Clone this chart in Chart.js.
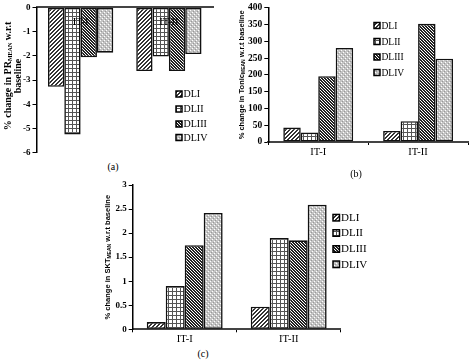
<!DOCTYPE html>
<html>
<head>
<meta charset="utf-8">
<script src="https://cdn.jsdelivr.net/npm/chart.js@4.4.1/dist/chart.umd.min.js"></script>
<style>
  body { margin: 0; background: #fff; }
  #wrap { position: relative; width: 469px; height: 361px; overflow: hidden; font-family: 'Liberation Serif', 'DejaVu Serif', serif; }
  canvas { position: absolute; }
  .cap { position: absolute; font-size: 10px; line-height: 10px; transform: translate(-50%, -50%); color: #000; }
</style>
</head>
<body>
<div id="wrap">
  <canvas id="chartA" width="235" height="160" style="left:0px;top:0px"></canvas>
  <canvas id="chartB" width="234" height="160" style="left:235px;top:0px"></canvas>
  <canvas id="chartC" width="280" height="172" style="left:100px;top:175px"></canvas>
  <div class="cap" style="left:113px;top:167px">(a)</div>
  <div class="cap" style="left:356px;top:174px">(b)</div>
  <div class="cap" style="left:203px;top:354px">(c)</div>
</div>
<script>
// categories and series
const categories = ['IT-I', 'IT-II'];
const seriesNames = ['DLI', 'DLII', 'DLIII', 'DLIV'];

// (a) % change in PR_MEAN
const prDLI = [-3.28, -2.63];
const prDLII = [-5.25, -2.03];
const prDLIII = [-2.06, -2.63];
const prDLIV = [-1.87, -1.93];

// (b) % change in Tonic_MEAN
const tonicDLI = [43, 33];
const tonicDLII = [28, 62];
const tonicDLIII = [196, 352];
const tonicDLIV = [280, 248];

// (c) % change in SKT_MEAN
const sktDLI = [0.15, 0.47];
const sktDLII = [0.9, 1.9];
const sktDLIII = [1.75, 1.85];
const sktDLIV = [2.42, 2.59];

const serif = "'Liberation Serif', 'DejaVu Serif', serif";
const sans = "'Liberation Sans', Arial, sans-serif";
Chart.defaults.font.family = serif;

// hatch fills, drawn on a small tile
function makePattern(size, draw) {
    const c = document.createElement('canvas');
    c.width = size; c.height = size;
    const g = c.getContext('2d');
    g.fillStyle = '#fff';
    g.fillRect(0, 0, size, size);
    draw(g);
    return g.createPattern(c, 'repeat');
}

const fills = [
    // DLI: forward diagonals
    makePattern(4, g => {
        g.fillStyle = '#333';
        for (let x = 0; x < 4; x++) {
            g.fillRect(x, 3 - x, 1, 1);
            g.fillRect(x, (4 - x) % 4, 1, 1);
        }
    }),
    // DLII: small grid
    makePattern(4, g => {
        g.fillStyle = '#555';
        g.fillRect(0, 0, 4, 1);
        g.fillRect(0, 0, 1, 4);
    }),
    // DLIII: dense back diagonals
    makePattern(3, g => {
        g.fillStyle = '#222';
        for (let x = 0; x < 3; x++) {
            g.fillRect(x, x, 1, 1);
            g.fillRect(x, (x + 1) % 3, 1, 1);
        }
    }),
    // DLIV: light grey dots
    makePattern(4, g => {
        g.fillStyle = '#c4c4c4';
        g.fillRect(0, 0, 4, 4);
        g.fillStyle = '#fff';
        g.fillRect(0, 0, 1, 1);
        g.fillRect(2, 2, 1, 1);
        g.fillStyle = '#999';
        g.fillRect(1, 3, 1, 1);
        g.fillRect(3, 1, 1, 1);
    })
];

// rotated y title with subscript pieces
const sideTitle = {
    id: 'sideTitle',
    afterDraw(chart, args, opts) {
        if (!opts.lines) return;
        const ctx = chart.ctx;
        const cy = opts.y != null ? opts.y : (chart.chartArea.top + chart.chartArea.bottom) / 2;
        ctx.save();
        ctx.fillStyle = '#000';
        opts.lines.forEach((line, i) => {
            let w = 0;
            line.forEach(s => {
                ctx.font = s.sub ? opts.subFont : opts.font;
                w += ctx.measureText(s.t).width;
            });
            ctx.save();
            ctx.translate(opts.x[i], cy);
            ctx.rotate(-Math.PI / 2);
            ctx.textBaseline = 'middle';
            let px = -w / 2;
            line.forEach(s => {
                ctx.font = s.sub ? opts.subFont : opts.font;
                ctx.fillText(s.t, px, s.sub ? opts.subShift : 0);
                px += ctx.measureText(s.t).width;
            });
            ctx.restore();
        });
        ctx.restore();
    }
};

// legend with small framed swatches
const boxLegend = {
    id: 'boxLegend',
    afterDraw(chart, args, opts) {
        if (!opts.ys) return;
        const ctx = chart.ctx;
        ctx.save();
        ctx.font = opts.font;
        ctx.textBaseline = 'middle';
        chart.data.datasets.forEach((ds, i) => {
            const y = opts.ys[i];
            const b = opts.box;
            ctx.fillStyle = ds.backgroundColor;
            ctx.fillRect(opts.x, y - b / 2, b, b);
            ctx.strokeStyle = '#000';
            ctx.lineWidth = 1.5;
            ctx.strokeRect(opts.x, y - b / 2, b, b);
            ctx.fillStyle = '#000';
            ctx.fillText(ds.label, opts.x + b + 1.5, y + 0.5);
        });
        ctx.restore();
    }
};

// category names drawn inside the plot (chart a)
const innerCats = {
    id: 'innerCats',
    afterDraw(chart, args, opts) {
        if (opts.y == null) return;
        const ctx = chart.ctx;
        const xs = chart.scales.x;
        ctx.save();
        ctx.font = opts.font;
        ctx.fillStyle = '#000';
        ctx.textAlign = 'center';
        ctx.textBaseline = 'middle';
        chart.data.labels.forEach((l, i) => {
            ctx.fillText(l, xs.getPixelForValue(i), opts.y);
        });
        ctx.restore();
    }
};

function makeChart(id, values, cfg) {
    const ctx = document.getElementById(id).getContext('2d');
    return new Chart(ctx, {
        type: 'bar',
        data: {
            labels: categories,
            datasets: values.map((v, i) => ({
                label: seriesNames[i],
                data: v,
                backgroundColor: fills[i],
                borderColor: '#111',
                borderWidth: 1.6,
                borderSkipped: false,
                barPercentage: 1,
                categoryPercentage: cfg.catPct
            }))
        },
        options: {
            responsive: false,
            animation: false,
            events: [],
            layout: { padding: cfg.padding },
            plugins: {
                legend: { display: false },
                tooltip: { enabled: false },
                sideTitle: cfg.title,
                boxLegend: cfg.legend,
                innerCats: cfg.inner || {}
            },
            scales: {
                x: {
                    position: cfg.xPos,
                    offset: true,
                    grid: { display: cfg.xTicks, drawOnChartArea: false, offset: true, tickLength: 3, color: '#000' },
                    border: { display: true, color: '#444', width: 2 },
                    ticks: { display: cfg.xTicks, color: '#000', font: { family: serif, size: 10.5 }, padding: 1, maxRotation: 0 },
                    afterFit: s => { s.height = cfg.xHeight; }
                },
                y: {
                    min: cfg.min,
                    max: cfg.max,
                    ticks: {
                        stepSize: cfg.step, color: '#000', padding: 2,
                        font: { family: serif, size: cfg.tickSize, weight: 'bold' },
                        callback: v => String(+v.toFixed(2))
                    },
                    grid: { drawOnChartArea: false, tickLength: 4, color: '#000' },
                    border: { color: '#000', width: 1.5 },
                    afterFit: s => { s.width = cfg.yWidth; }
                }
            }
        },
        plugins: [sideTitle, boxLegend, innerCats]
    });
}

makeChart('chartA', [prDLI, prDLII, prDLIII, prDLIV], {
    catPct: 0.74, xPos: 'top', xTicks: false, xHeight: 0, yWidth: 36.5,
    min: -6, max: 0, step: 1, tickSize: 9,
    padding: { left: 0, top: 5, right: 22, bottom: 7 },
    title: {
        x: [8, 18], y: 76,
        font: 'bold 10px ' + serif, subFont: 'bold 6px ' + serif, subShift: 2.5,
        lines: [[{ t: '% change in PR' }, { t: 'MEAN', sub: true }, { t: ' w.r.t' }], [{ t: 'baseline' }]]
    },
    legend: { x: 176, box: 6, ys: [94, 109, 124, 137.5], font: '10px ' + serif },
    inner: { y: 22, font: '10.5px ' + serif }
});

makeChart('chartB', [tonicDLI, tonicDLII, tonicDLIII, tonicDLIV], {
    catPct: 0.70, xPos: 'bottom', xTicks: true, xHeight: 18, yWidth: 33.3,
    min: 0, max: 400, step: 50, tickSize: 9.5,
    padding: { left: 0, top: 5, right: 1, bottom: 0 },
    title: {
        x: [6.5],
        font: 'bold 7.5px ' + sans, subFont: 'bold 5px ' + sans, subShift: 2,
        lines: [[{ t: '% change in Tonic' }, { t: 'MEAN', sub: true }, { t: ' w.r.t baseline' }]]
    },
    legend: { x: 139, box: 6, ys: [25.5, 41.5, 57, 72.5], font: '9.5px ' + serif }
});

makeChart('chartC', [sktDLI, sktDLII, sktDLIII, sktDLIV], {
    catPct: 0.73, xPos: 'bottom', xTicks: true, xHeight: 17.7, yWidth: 32.7,
    min: 0, max: 3, step: 0.5, tickSize: 9,
    padding: { left: 0, top: 10, right: 39.3, bottom: 0 },
    title: {
        x: [7.5],
        font: 'bold 7.5px ' + sans, subFont: 'bold 5px ' + sans, subShift: 2,
        lines: [[{ t: '% change in SKT' }, { t: 'MEAN', sub: true }, { t: ' w.r.t baseline' }]]
    },
    legend: { x: 233, box: 6.5, ys: [42.7, 58, 74, 89.3], font: '11px ' + serif }
});
</script>
</body>
</html>
